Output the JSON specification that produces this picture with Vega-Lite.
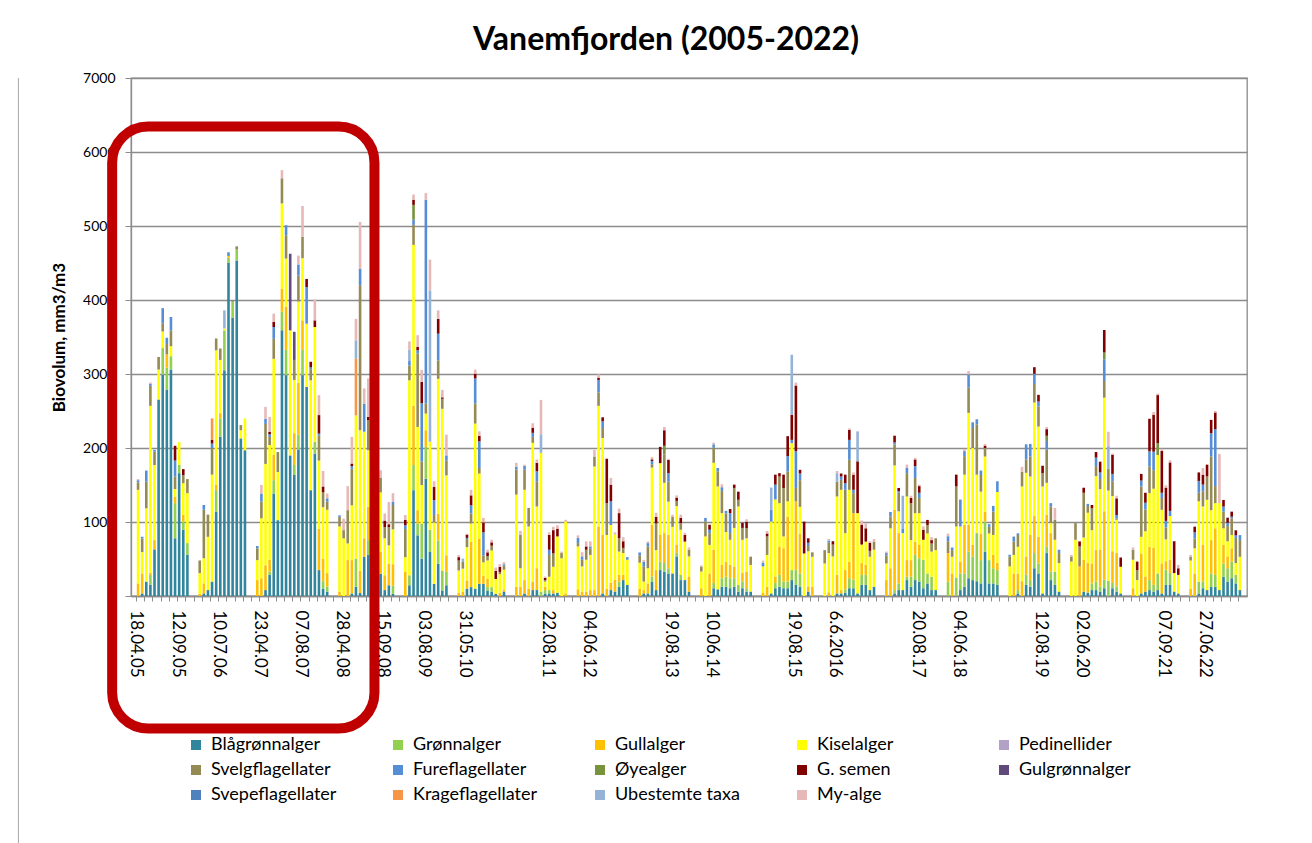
{
  "$schema": "https://vega.github.io/schema/vega-lite/v6.json",
  "autosize": {"type": "none"},
  "width": 1116,
  "height": 518,
  "padding": {"left": 131, "top": 78, "right": 65, "bottom": 247},
  "background": "white",
  "config": {
    "font": "Lato",
    "view": {"stroke": "#8C8C8C", "strokeWidth": 1.3}
  },
  "title": {
    "text": "Vanemfjorden (2005-2022)",
    "fontSize": 32,
    "fontWeight": "bold",
    "font": "Lato",
    "color": "#000000",
    "anchor": "middle",
    "offset": 14,
    "dx": -23
  },
  "datasets": {
    "taxa": [
      {"k": "b", "name": "Blågrønnalger", "o": 1},
      {"k": "gr", "name": "Grønnalger", "o": 2},
      {"k": "gu", "name": "Gullalger", "o": 3},
      {"k": "ki", "name": "Kiselalger", "o": 4},
      {"k": "pe", "name": "Pedinellider", "o": 5},
      {"k": "sv", "name": "Svelgflagellater", "o": 6},
      {"k": "fu", "name": "Fureflagellater", "o": 7},
      {"k": "oy", "name": "Øyealger", "o": 8},
      {"k": "gs", "name": "G. semen", "o": 9},
      {"k": "gg", "name": "Gulgrønnalger", "o": 10},
      {"k": "sp", "name": "Svepeflagellater", "o": 11},
      {"k": "kr", "name": "Krageflagellater", "o": 12},
      {"k": "ub", "name": "Ubestemte taxa", "o": 13},
      {"k": "my", "name": "My-alge", "o": 14}
    ],
    "frame": [
      {"x": -6.3, "x2": 57.5, "y": 6345, "y2": -1790}
    ],
    "border": [
      {"x": -29.1, "y": 7000, "y2": -3340}
    ],
    "samples": [
      {"i":0,"gu":170,"ki":1265,"sv":100,"fu":30,"my":15},
      {"i":1,"b":35,"gu":270,"ki":290,"sv":180,"fu":25},
      {"i":2,"b":195,"ki":990,"sv":360,"fu":150},
      {"i":3,"b":150,"gr":135,"gu":25,"ki":2260,"sv":270,"fu":25,"my":20},
      {"i":4,"b":630,"gu":125,"ki":1015,"sv":180,"fu":25},
      {"i":5,"b":2655,"ki":405,"sv":170},
      {"i":6,"b":2990,"gr":360,"ki":225,"sv":110,"fu":205},
      {"i":7,"b":2790,"gr":295,"gu":180,"sv":140,"fu":85},
      {"i":8,"b":3060,"gr":180,"ki":135,"sv":215,"fu":180},
      {"i":9,"b":780,"gr":475,"gu":90,"ki":100,"sv":170,"fu":215,"gs":200},
      {"i":10,"b":1660,"gr":115,"ki":305},
      {"i":11,"b":895,"gr":110,"gu":90,"ki":430,"sv":110,"gs":80},
      {"i":12,"b":555,"gr":160,"ki":675,"sv":190},
      {"i":15,"gu":30,"ki":280,"sv":170},
      {"i":16,"b":35,"gu":135,"ki":340,"sv":655,"fu":65},
      {"i":17,"b":80,"ki":720,"sv":300},
      {"i":18,"b":195,"kr":290,"ki":1445,"sv":360,"gs":50,"fu":60},
      {"i":19,"b":1140,"gr":290,"gu":70,"ki":1820,"sv":160},
      {"i":20,"b":2150,"gr":250,"gu":70,"ki":720,"sv":155},
      {"i":21,"b":3050,"gr":540,"ki":25,"ub":245},
      {"i":22,"b":4500,"gr":70,"gu":25,"fu":50},
      {"i":23,"b":3760,"gr":210,"sv":15},
      {"i":24,"b":4535,"gr":145,"sv":45},
      {"i":25,"b":2130,"ki":110,"sv":70},
      {"i":26,"b":1970,"ki":430},
      {"i":29,"gu":215,"ki":270,"sv":160,"fu":30},
      {"i":30,"gu":240,"ki":810,"sv":225,"fu":110,"my":115},
      {"i":31,"b":80,"gu":335,"ki":1370,"sv":540,"fu":70,"my":160},
      {"i":32,"b":285,"gr":45,"gu":160,"ki":1550,"sv":110,"gs":35,"fu":35,"my":200},
      {"i":33,"b":1385,"gr":180,"gu":340,"ki":1300,"sv":270,"fu":160,"gs":70,"my":110},
      {"i":34,"b":1025,"ki":650,"sv":270},
      {"i":35,"b":3590,"gr":250,"gu":315,"ki":1150,"sv":340,"my":110},
      {"i":36,"b":2985,"gr":340,"gu":585,"ki":650,"sv":315,"fu":135},
      {"i":37,"b":1900,"ki":1690,"gg":1035},
      {"i":38,"b":1635,"gr":135,"gu":430,"ki":720,"sv":270,"gg":380},
      {"i":39,"b":1980,"gr":200,"gu":700,"ki":1100,"sv":350,"fu":150,"my":120},
      {"i":40,"b":2985,"gr":340,"gu":400,"ki":840,"sv":290,"my":415},
      {"i":41,"b":2825,"ki":855,"fu":495,"gs":110},
      {"i":42,"b":1430,"ki":1485,"sv":150,"gs":75,"fu":25},
      {"i":43,"b":1925,"gr":160,"ki":1550,"gs":90,"my":280},
      {"i":44,"b":350,"gu":560,"ki":920,"sv":340,"gs":250,"fu":25,"my":270},
      {"i":45,"b":100,"gr":100,"gu":300,"ki":700,"sv":200,"gs":80,"my":210},
      {"i":46,"b":60,"gr":70,"gu":180,"ki":855,"sv":110,"fu":45,"my":65},
      {"i":49,"gu":60,"ki":880,"sv":130,"fu":20},
      {"i":50,"ki":780,"sv":110,"my":155},
      {"i":51,"gu":485,"ki":225,"sv":450,"my":325},
      {"i":52,"b":35,"gu":450,"ki":740,"sv":495,"gs":35,"fu":35,"my":360},
      {"i":53,"b":125,"gr":380,"kr":765,"ki":1935,"ub":250,"my":290},
      {"i":54,"b":40,"gu":300,"ki":1900,"sv":1960,"fu":225,"my":630},
      {"i":55,"b":530,"gu":250,"ki":1440,"fu":380,"my":205},
      {"i":56,"b":555,"gr":200,"gu":450,"ki":765,"sv":405,"gs":45,"my":520},
      {"i":57,"b":500,"gu":400,"ki":1200,"sv":200,"my":150},
      {"i":58,"b":600,"gr":150,"gu":400,"ki":1300,"sv":300,"my":150},
      {"i":59,"b":300,"gu":300,"ki":800,"sv":200,"my":100},
      {"i":60,"b":80,"gu":200,"ki":500,"sv":150,"gs":90,"my":95},
      {"i":61,"b":145,"gu":290,"ki":250,"sv":245,"gs":40,"my":300},
      {"i":62,"b":30,"gr":110,"gu":290,"ki":470,"sv":330,"fu":40,"my":120},
      {"i":65,"gu":325,"ki":200,"sv":380,"gs":75,"fu":50,"my":65},
      {"i":66,"b":145,"gr":135,"ki":2635,"sv":200,"ub":150,"fu":60,"my":115},
      {"i":67,"b":1430,"gr":340,"gu":800,"ki":2175,"sv":270,"oy":200,"gs":70,"fu":70,"my":70},
      {"i":68,"b":820,"gr":160,"gu":180,"ki":1125,"sv":990,"fu":45,"gs":45,"my":160},
      {"i":69,"b":505,"gr":470,"ki":525,"sv":315,"fu":790,"gs":290,"my":160},
      {"i":70,"b":1585,"gr":430,"gu":225,"ki":225,"sv":135,"fu":2755,"my":90},
      {"i":71,"b":595,"gr":300,"ki":1190,"ub":2045,"my":415},
      {"i":72,"b":165,"ki":830,"sv":100,"fu":200,"gs":180,"my":75},
      {"i":73,"b":435,"gr":315,"gu":360,"ki":1825,"sv":250,"fu":360,"gs":200,"my":115},
      {"i":74,"b":75,"gr":270,"ki":2185,"sv":135,"gs":20,"my":100},
      {"i":75,"b":145,"gr":180,"gu":225,"ki":1080,"sv":200,"fu":70,"my":280},
      {"i":78,"gu":45,"ki":300,"sv":135,"gs":45,"my":30},
      {"i":79,"gu":55,"ki":315,"sv":90,"ub":45},
      {"i":80,"b":100,"gu":110,"ki":450,"sv":110,"gs":45,"fu":15,"my":12},
      {"i":81,"b":120,"gu":610,"ki":250,"sv":135,"fu":110,"gs":135,"my":75},
      {"i":82,"b":100,"ki":2230,"sv":270,"fu":340,"gs":65,"my":55},
      {"i":83,"b":165,"gu":610,"ki":880,"sv":75,"fu":360,"gs":75,"my":60},
      {"i":84,"b":165,"gu":110,"ki":180,"sv":90,"fu":315,"gs":135,"my":60},
      {"i":85,"b":75,"gr":45,"gu":110,"ki":250,"sv":60,"gs":50,"my":35},
      {"i":86,"b":55,"gr":65,"ki":495,"sv":65,"gs":45,"my":35},
      {"i":87,"b":30,"ki":200,"gs":110,"my":45},
      {"i":88,"gu":45,"ki":250,"sv":30,"gs":70,"my":35},
      {"i":89,"b":60,"gu":25,"ki":270,"sv":55,"fu":20,"my":27},
      {"i":92,"gu":125,"ki":1245,"sv":340,"fu":35,"my":55},
      {"i":93,"gu":125,"ki":250,"sv":450,"my":55},
      {"i":94,"b":35,"gu":180,"ki":1220,"sv":270,"fu":55,"my":15},
      {"i":95,"gu":100,"ki":840,"sv":250},
      {"i":96,"b":80,"gu":115,"ki":1875,"sv":80,"fu":55,"gs":70,"my":60},
      {"i":97,"b":80,"gu":295,"ki":835,"sv":340,"fu":135,"gs":115,"my":45},
      {"i":98,"gr":60,"ki":1875,"ub":250,"my":465},
      {"i":99,"b":35,"gr":45,"gu":45,"ki":70,"sv":20,"gs":30,"my":17},
      {"i":100,"b":35,"gr":45,"ki":180,"sv":295,"fu":70,"gs":200,"my":35},
      {"i":101,"b":35,"gu":45,"ki":315,"sv":180,"gs":315,"my":45},
      {"i":102,"b":45,"ki":760,"gs":105,"my":45},
      {"i":103,"ki":510,"sv":70,"my":20},
      {"i":104,"gu":35,"ki":970,"my":25},
      {"i":107,"gu":90,"ki":580,"sv":45,"fu":70,"my":35},
      {"i":108,"gu":60,"ki":340,"sv":90,"fu":45,"my":57},
      {"i":109,"gu":60,"ki":430,"sv":135,"gs":45,"my":68},
      {"i":110,"gu":80,"ki":475,"sv":90,"fu":25,"my":68},
      {"i":111,"gu":80,"ki":1670,"sv":135,"my":90},
      {"i":112,"gu":940,"ki":1630,"sv":180,"fu":170,"gs":30,"my":45},
      {"i":113,"b":35,"gu":790,"ki":1310,"sv":135,"fu":90,"gs":55},
      {"i":114,"gu":100,"ki":725,"sv":430,"gs":600},
      {"i":115,"b":80,"gu":100,"ki":780,"fu":320,"gs":225,"my":90},
      {"i":116,"b":60,"gu":160,"ki":610,"my":30},
      {"i":117,"b":125,"gr":70,"gu":90,"ki":315,"sv":180,"gs":340,"my":60},
      {"i":118,"b":215,"gu":70,"ki":295,"sv":70,"gs":90,"my":55},
      {"i":119,"b":150,"ki":340,"fu":35},
      {"i":122,"gu":100,"ki":350,"sv":100,"fu":38},
      {"i":123,"b":35,"gu":45,"ki":115,"sv":200,"fu":68,"my":25},
      {"i":124,"b":35,"gu":135,"ki":205,"sv":295,"fu":45,"my":22},
      {"i":125,"b":195,"gr":70,"gu":700,"ki":770,"sv":45,"fu":45,"gs":22,"my":30},
      {"i":126,"b":80,"gu":270,"ki":270,"sv":360,"gs":90,"my":55},
      {"i":127,"b":350,"gr":115,"gu":360,"ki":970,"gs":220},
      {"i":128,"b":330,"gr":115,"gu":405,"ki":680,"sv":385,"oy":115,"gs":210,"my":45},
      {"i":129,"b":305,"gr":70,"gu":450,"ki":450,"sv":270,"fu":115,"gs":180,"my":15},
      {"i":130,"b":305,"ki":630,"sv":135,"my":28},
      {"i":131,"b":535,"gr":45,"gu":115,"ki":520,"sv":70,"gs":45,"my":30},
      {"i":132,"b":215,"gr":70,"ki":610,"sv":90,"gs":70,"my":45},
      {"i":133,"b":215,"ki":520,"gs":90,"my":30},
      {"i":134,"b":60,"gu":205,"ki":270,"sv":90,"my":30},
      {"i":137,"gu":105,"ki":225,"sv":68,"my":15},
      {"i":138,"ki":805,"sv":205,"fu":45},
      {"i":139,"gu":305,"ki":385,"sv":160,"gs":68,"fu":45},
      {"i":140,"b":105,"gr":70,"gu":450,"ki":1175,"sv":205,"fu":45,"my":22},
      {"i":141,"b":90,"ki":1390,"sv":205,"fu":45},
      {"i":142,"b":125,"gr":115,"gu":180,"ki":700,"sv":300,"fu":50,"my":40},
      {"i":143,"b":125,"gr":135,"gu":200,"ki":405,"sv":250,"fu":35},
      {"i":144,"b":105,"gr":135,"gu":180,"ki":340,"fu":270,"sv":90,"gs":55},
      {"i":145,"b":125,"gr":115,"gu":160,"ki":520,"sv":540,"gs":45},
      {"i":146,"b":60,"gr":90,"ki":1060,"sv":90,"gs":110},
      {"i":147,"b":105,"gr":90,"gu":115,"ki":450,"sv":160,"gs":68},
      {"i":148,"b":60,"gr":45,"gu":225,"ki":450,"sv":135,"gs":90,"my":32},
      {"i":149,"b":60,"ki":360,"sv":112},
      {"i":152,"gu":40,"ki":360,"fu":50,"my":28},
      {"i":153,"gu":125,"ki":430,"sv":250,"gs":40,"my":34},
      {"i":154,"b":35,"ki":970,"ub":300,"fu":160},
      {"i":155,"b":105,"gr":70,"gu":90,"ki":1040,"fu":200,"gs":135},
      {"i":156,"b":125,"gr":160,"gu":385,"ki":585,"sv":360,"gs":45},
      {"i":157,"b":105,"gr":90,"gu":450,"ki":160,"sv":655,"gs":180},
      {"i":158,"b":105,"gr":90,"gu":880,"ki":205,"sv":405,"fu":205,"gs":270},
      {"i":159,"b":215,"gr":135,"ki":1715,"ub":810,"gs":340,"fu":45},
      {"i":160,"b":150,"gr":205,"gu":925,"sv":180,"fu":495,"gs":890,"my":40},
      {"i":161,"b":125,"gr":180,"gu":540,"ki":360,"sv":360,"fu":90,"gs":50},
      {"i":162,"ki":575,"gs":430},
      {"i":163,"b":60,"gu":70,"ki":475,"sv":70,"gs":60,"fu":45},
      {"i":164,"gu":125,"ki":405,"sv":60},
      {"i":167,"ki":440,"sv":180},
      {"i":168,"gu":50,"ki":530,"sv":140,"fu":30,"my":20},
      {"i":169,"ki":535,"sv":160,"gs":45},
      {"i":170,"b":35,"gu":250,"ki":1060,"sv":200,"ub":115,"my":30},
      {"i":171,"b":35,"gu":45,"ki":1355,"sv":135,"gs":40,"fu":45},
      {"i":172,"b":45,"gr":45,"gu":260,"ki":500,"sv":585,"fu":90,"gs":115},
      {"i":173,"b":105,"gr":135,"gu":225,"ki":970,"sv":405,"fu":270,"gs":135,"my":20},
      {"i":174,"b":105,"gr":115,"gu":900,"sv":270,"fu":45,"gs":205,"my":30},
      {"i":175,"b":35,"ki":1085,"ub":405,"gs":700},
      {"i":176,"b":150,"gr":135,"gu":160,"ki":250,"gs":270,"my":55},
      {"i":177,"b":150,"gr":135,"gu":135,"ki":315,"gs":180,"my":68},
      {"i":178,"b":80,"ki":450,"sv":80,"gs":110,"my":20},
      {"i":179,"b":125,"ki":500,"sv":110,"my":35},
      {"i":182,"gu":215,"ki":225,"sv":110,"fu":30,"my":20},
      {"i":183,"gu":375,"ki":540,"sv":160,"fu":60},
      {"i":184,"b":35,"gr":45,"gu":1085,"ki":600,"sv":285,"fu":25,"gs":90,"my":10},
      {"i":185,"b":80,"gr":90,"gu":680,"ki":295,"sv":250,"gs":45,"fu":20},
      {"i":186,"b":80,"ki":770,"ub":450,"fu":55},
      {"i":187,"b":215,"gr":45,"gu":225,"ki":860,"sv":315,"fu":70,"my":45},
      {"i":188,"b":125,"gr":135,"gu":225,"ki":270,"sv":500,"gs":70,"my":30},
      {"i":189,"b":215,"gr":340,"gu":180,"ki":385,"sv":475,"fu":160,"gs":90,"my":22},
      {"i":190,"b":195,"gr":315,"gu":180,"ki":430,"sv":205,"fu":70,"gs":90,"my":20},
      {"i":191,"b":105,"gr":385,"ki":270,"gs":135,"my":45},
      {"i":192,"b":170,"gr":135,"ki":540,"sv":115,"gs":68},
      {"i":193,"b":80,"gr":180,"ki":340,"sv":110,"gs":45,"my":40},
      {"i":194,"b":80,"ki":540,"sv":160},
      {"i":197,"gr":195,"gu":385,"sv":160,"fu":68,"my":35},
      {"i":198,"gu":305,"ki":225,"sv":90,"fu":35},
      {"i":199,"gr":250,"ki":690,"sv":540,"gs":160},
      {"i":200,"b":80,"gr":225,"gu":160,"ki":475,"fu":360,"my":10},
      {"i":201,"b":125,"gr":180,"gu":655,"ki":680,"sv":250,"fu":68,"my":30},
      {"i":202,"b":240,"gr":360,"gu":360,"ki":1515,"sv":340,"fu":180,"my":45},
      {"i":203,"b":215,"gr":315,"gu":160,"ki":1310,"sv":270,"fu":77},
      {"i":204,"b":200,"gr":650,"ki":790,"sv":680,"fu":68},
      {"i":205,"b":170,"gr":315,"gu":360,"ki":565,"sv":225,"fu":60},
      {"i":206,"b":600,"gr":405,"gu":135,"ki":745,"sv":115,"gs":32,"my":22},
      {"i":207,"b":170,"gr":315,"ki":360,"sv":90,"fu":35},
      {"i":208,"b":170,"gr":205,"gu":180,"ki":270,"sv":315,"fu":77},
      {"i":209,"b":150,"gr":200,"gu":100,"ki":955,"fu":145},
      {"i":212,"ki":400,"sv":135,"fu":22},
      {"i":213,"gu":305,"ki":250,"sv":180,"fu":68},
      {"i":214,"b":35,"gr":45,"gu":225,"ki":360,"sv":160,"fu":22},
      {"i":215,"gu":200,"ki":1280,"sv":200,"my":65},
      {"i":216,"b":150,"gr":135,"gu":250,"ki":1130,"sv":180,"fu":205},
      {"i":217,"b":125,"gr":90,"gu":610,"ki":790,"sv":270,"fu":170},
      {"i":218,"b":375,"gr":205,"gu":500,"ki":1535,"sv":250,"fu":137,"gs":90},
      {"i":219,"b":305,"gr":135,"gu":360,"ki":1490,"sv":270,"gs":90,"fu":68},
      {"i":220,"b":35,"ki":1445,"sv":180,"gs":100},
      {"i":221,"b":580,"gr":90,"gu":430,"ki":430,"sv":450,"fu":115,"oy":70,"gs":90,"my":30},
      {"i":222,"b":215,"gr":115,"gu":520,"ki":135,"sv":225,"fu":45},
      {"i":223,"b":150,"gr":180,"ki":430,"sv":270,"my":160},
      {"i":224,"b":60,"ki":385,"sv":135,"fu":45},
      {"i":227,"ki":465,"sv":68,"my":22},
      {"i":228,"ki":760,"sv":225},
      {"i":229,"gu":400,"sv":270,"gs":68},
      {"i":230,"b":60,"gu":430,"ki":300,"sv":605,"gs":68},
      {"i":231,"b":45,"gu":400,"ki":680,"sv":90,"fu":30},
      {"i":232,"b":80,"gr":90,"gu":270,"ki":450,"sv":295,"gs":45},
      {"i":233,"b":80,"gr":115,"gu":430,"ki":995,"sv":135,"fu":115,"gs":75},
      {"i":234,"b":60,"gr":70,"gu":500,"ki":815,"sv":135,"fu":90,"gs":145},
      {"i":235,"b":105,"gr":115,"gu":925,"ki":1535,"sv":225,"fu":295,"oy":90,"gs":305},
      {"i":236,"gr":205,"ki":1220,"sv":295,"ub":310,"my":190},
      {"i":237,"b":105,"gr":70,"gu":430,"ki":745,"sv":200,"fu":100,"gs":260,"my":15},
      {"i":238,"b":60,"gr":70,"gu":450,"ki":450,"sv":20,"fu":45,"gs":225,"my":35},
      {"i":239,"b":35,"ki":360,"gs":125},
      {"i":242,"gu":105,"ki":385,"sv":135,"my":30},
      {"i":243,"ki":215,"sv":135,"gs":115},
      {"i":244,"b":35,"gu":540,"ki":225,"sv":680,"gs":90,"fu":80},
      {"i":245,"b":60,"gu":205,"ki":610,"sv":295,"fu":90,"gs":135},
      {"i":246,"b":80,"gr":135,"gu":450,"ki":725,"sv":360,"fu":205,"gs":440},
      {"i":247,"b":60,"gr":90,"gu":500,"ki":800,"sv":250,"fu":250,"gs":500,"my":36},
      {"i":248,"b":80,"gr":225,"ki":1600,"oy":160,"gs":650,"my":20},
      {"i":249,"b":35,"gu":405,"ki":725,"sv":160,"fu":70,"gs":565,"my":30},
      {"i":250,"b":150,"gr":205,"gu":115,"ki":295,"sv":160,"fu":90,"gs":450,"my":30},
      {"i":251,"b":150,"gr":160,"gu":180,"ki":590,"fu":70,"gs":655,"my":30},
      {"i":252,"b":60,"ki":250,"gs":430},
      {"i":253,"b":35,"ki":250,"gs":90,"my":45},
      {"i":256,"gu":100,"ki":380,"sv":50,"my":25},
      {"i":257,"gu":305,"ki":340,"sv":135,"gs":77,"fu":80},
      {"i":258,"b":35,"gr":160,"ki":1085,"sv":115,"gs":115,"fu":160},
      {"i":259,"b":105,"gr":90,"gu":500,"ki":515,"sv":205,"fu":90,"gs":135,"my":90},
      {"i":260,"b":80,"ki":1220,"sv":315,"gs":160},
      {"i":261,"b":125,"gr":180,"gu":450,"ki":405,"sv":725,"fu":315,"gs":180},
      {"i":262,"b":125,"gr":160,"gu":630,"ki":340,"sv":230,"fu":770,"gs":225,"my":22},
      {"i":263,"b":80,"ki":1175,"my":665},
      {"i":264,"b":260,"gr":180,"gu":250,"ki":225,"sv":225,"gs":90,"fu":68},
      {"i":265,"b":195,"gr":180,"gu":160,"ki":205,"sv":205,"gs":68,"fu":45},
      {"i":266,"b":240,"gr":225,"gu":180,"ki":180,"sv":225,"gs":68,"fu":22},
      {"i":267,"b":170,"gr":115,"ki":160,"sv":340,"gs":68,"fu":35},
      {"i":268,"b":80,"ki":450,"sv":225,"fu":68}
    ]
  },
  "layer": [
    {
      "data": {"name": "samples"},
      "transform": [
        {"fold": ["b","gr","gu","ki","pe","sv","fu","oy","gs","gg","sp","kr","ub","my"], "as": ["k","v"]},
        {"filter": "datum.v > 0"},
        {"lookup": "k", "from": {"data": {"name": "taxa"}, "key": "k", "fields": ["name","o"]}}
      ],
      "mark": {"type": "bar", "size": 2.6},
      "encoding": {
        "x": {
          "field": "i",
          "type": "quantitative",
          "scale": {"domain": [-0.5, 268.5], "nice": false, "zero": false},
          "axis": {
            "title": null,
            "tickCount": 135,
            "grid": false,
            "domainColor": "#8C8C8C",
            "domainWidth": 1.3,
            "tickColor": "#8C8C8C",
            "tickSize": 5,
            "tickOffset": -2.08,
            "labelOverlap": false,
            "labelAngle": 90,
            "labelAlign": "left",
            "labelBaseline": "middle",
            "labelPadding": 9,
            "labelFontSize": 17,
            "labelColor": "#000000",
            "labelExpr": "datum.value % 10 == 0 ? ['18.04.05','12.09.05','10.07.06','23.04.07','07.08.07','28.04.08','15.09.08','03.08.09','31.05.10','','22.08.11','04.06.12','','19.08.13','10.06.14','','19.08.15','6.6.2016','','20.08.17','04.06.18','','12.08.19','02.06.20','','07.09.21','27.06.22'][datum.value / 10] : ''"
          }
        },
        "y": {
          "field": "v",
          "type": "quantitative",
          "stack": "zero",
          "scale": {"domain": [0, 7000], "nice": false},
          "axis": {
            "title": "Biovolum, mm3/m3",
            "titleFontSize": 17,
            "titleFontWeight": "bold",
            "titleColor": "#000000",
            "titlePadding": 14,
            "values": [0,1000,2000,3000,4000,5000,6000,7000],
            "format": "d",
            "grid": true,
            "gridColor": "#8C8C8C",
            "gridWidth": 1.3,
            "domainColor": "#8C8C8C",
            "domainWidth": 1.3,
            "tickColor": "#8C8C8C",
            "tickSize": 6,
            "labelFontSize": 14,
            "labelColor": "#000000",
            "labelPadding": 10
          }
        },
        "color": {
          "field": "name",
          "type": "nominal",
          "scale": {
            "domain": ["Blågrønnalger","Grønnalger","Gullalger","Kiselalger","Pedinellider","Svelgflagellater","Fureflagellater","Øyealger","G. semen","Gulgrønnalger","Svepeflagellater","Krageflagellater","Ubestemte taxa","My-alge"],
            "range": ["#31859C","#92D050","#FFC000","#FFFF00","#B3A2C7","#948A54","#558ED5","#77933C","#800000","#604A7B","#4F81BD","#F79646","#95B3D7","#E6B9B8"]
          },
          "legend": {
            "title": null,
            "orient": "none",
            "legendX": 56,
            "legendY": 658,
            "columns": 5,
            "direction": "horizontal",
            "gridAlign": "all",
            "columnPadding": 52,
            "rowPadding": 7,
            "padding": 0,
            "symbolType": "square",
            "symbolSize": 100,
            "symbolStrokeWidth": 0,
            "labelFontSize": 18,
            "labelColor": "#000000",
            "labelOffset": 6,
            "labelLimit": 300
          }
        },
        "order": {"field": "o", "type": "quantitative"}
      }
    },
    {
      "data": {"name": "frame"},
      "mark": {"type": "rect", "filled": false, "stroke": "#C00000", "strokeWidth": 10, "cornerRadius": 36},
      "encoding": {
        "x": {"field": "x", "type": "quantitative"},
        "x2": {"field": "x2"},
        "y": {"field": "y", "type": "quantitative"},
        "y2": {"field": "y2"}
      }
    },
    {
      "data": {"name": "border"},
      "mark": {"type": "rule", "stroke": "#A6A6A6", "strokeWidth": 1},
      "encoding": {
        "x": {"field": "x", "type": "quantitative"},
        "y": {"field": "y", "type": "quantitative"},
        "y2": {"field": "y2"}
      }
    }
  ]
}
